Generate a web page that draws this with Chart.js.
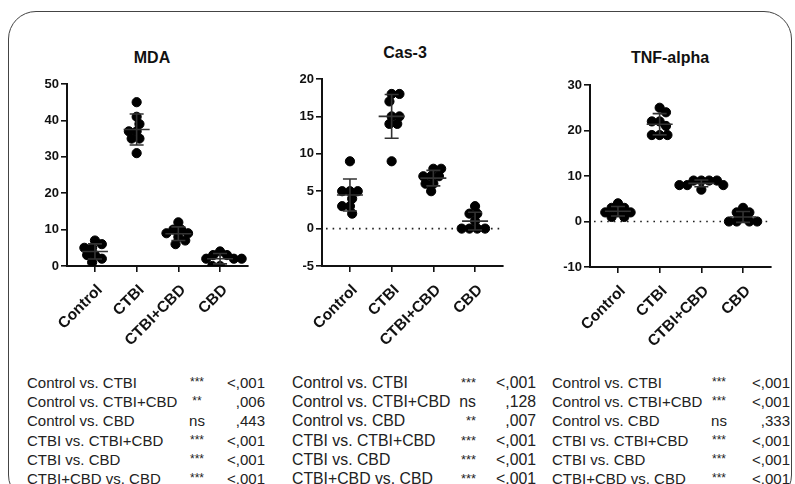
<!DOCTYPE html>
<html>
<head>
<meta charset="utf-8">
<script src="https://cdn.jsdelivr.net/npm/chart.js@4.4.1/dist/chart.umd.min.js"></script>
<style>
  body { margin: 0; background: #fff; font-family: Arial, 'Liberation Sans', sans-serif; }
  #wrap { position: relative; width: 795px; height: 484px; overflow: hidden; background: #fff; }
  #frame { position: absolute; left: 8px; top: 11px; width: 782px; height: 490px;
           border: 1.3px solid #444; border-radius: 28px; }
  .title { position: absolute; font-weight: bold; font-size: 16px; color: #111; transform: translateX(-50%); white-space: nowrap; }
  canvas { position: absolute; }
  .row { position: absolute; font-size: 15px; color: #222; white-space: nowrap; }
  .sig, .pv { position: absolute; top: 0; }
</style>
</head>
<body>
<div id="wrap">
  <div id="frame"></div>
  <div class="title" style="left:152px; top:49px">MDA</div>
  <div class="title" style="left:405px; top:44px">Cas-3</div>
  <div class="title" style="left:670px; top:49px">TNF-alpha</div>
  <canvas id="c1" width="240" height="290" style="left:20px; top:70px"></canvas>
  <canvas id="c2" width="240" height="295" style="left:275px; top:65px"></canvas>
  <canvas id="c3" width="240" height="290" style="left:543px; top:71px"></canvas>
  <div id="tables"></div>
</div>
<script>
const groups = ['Control', 'CTBI', 'CTBI+CBD', 'CBD'];

// MDA
const mdaControl = [7, 6, 5, 5, 3, 3, 2, 1];
const mdaCtbi = [45, 41, 39, 37, 37, 35, 35, 31];
const mdaCtbiCbd = [12, 10, 10, 9, 9, 8, 7, 6];
const mdaCbd = [4, 3, 3, 2, 2, 2, 0, 0];
const mdaTicks = [0, 10, 20, 30, 40, 50];

// Cas-3
const casControl = [9, 5, 5, 5, 4, 3, 3, 2];
const casCtbi = [18, 18, 17, 15, 15, 14, 14, 9];
const casCtbiCbd = [8, 8, 7, 7, 7, 6, 6, 5];
const casCbd = [3, 2, 2, 1, 0, 0, 0, 0];
const casTicks = [-5, 0, 5, 10, 15, 20];

// TNF-alpha
const tnfControl = [4, 3, 3, 2, 2, 2, 1, 1];
const tnfCtbi = [25, 24, 22, 22, 21, 19, 19, 19];
const tnfCtbiCbd = [9, 9, 9, 9, 8, 8, 8, 7];
const tnfCbd = [3, 2, 2, 1, 0, 0, 0, 0];
const tnfTicks = [-10, 0, 10, 20, 30];

// comparison tables
const comparisons = ['Control vs. CTBI', 'Control vs. CTBI+CBD', 'Control vs. CBD',
  'CTBI vs. CTBI+CBD', 'CTBI vs. CBD', 'CTBI+CBD vs. CBD'];
const mdaSig = ['***', '**', 'ns', '***', '***', '***'];
const mdaP = ['<,001', ',006', ',443', '<,001', '<,001', '<,001'];
const casSig = ['***', 'ns', '**', '***', '***', '***'];
const casP = ['<,001', ',128', ',007', '<,001', '<,001', '<,001'];
const tnfSig = ['***', '***', 'ns', '***', '***', '***'];
const tnfP = ['<,001', '<,001', ',333', '<,001', '<,001', '<,001'];

const FONT = "Arial, 'Liberation Sans', sans-serif";
const Y_W = 47, PAD_T = 14, PAD_R = 12, X_H = 94;
const X_MIN = -0.67, X_MAX = 3.67;

function mean(a) { return a.reduce((s, v) => s + v, 0) / a.length; }
function sd(a) { const m = mean(a); return Math.sqrt(a.reduce((s, v) => s + (v - m) ** 2, 0) / (a.length - 1)); }

// simple beeswarm so that overlapping dots spread sideways
function swarm(vals, pxX, pxY, d) {
  const placed = [];
  const off = new Array(vals.length);
  const order = vals.map((v, i) => i).sort((a, b) => vals[b] - vals[a]);
  let flip = 1;
  order.forEach(i => {
    const y = vals[i] * pxY;
    const cands = [0];
    placed.forEach(p => {
      const dy = Math.abs(p.y - y);
      if (dy < d) {
        const dx = Math.sqrt(d * d - dy * dy);
        cands.push(p.x + dx, p.x - dx);
      }
    });
    cands.sort((a, b) => Math.abs(a) - Math.abs(b) || (b - a) * flip);
    const x = cands.find(c => placed.every(p => Math.hypot(p.x - c, p.y - y) >= d - 0.01));
    if (x !== 0) flip = -flip;
    placed.push({ x, y });
    off[i] = x / pxX;
  });
  return off;
}

const errorBars = {
  id: 'errorBars',
  afterDatasetsDraw(chart) {
    const { ctx, scales: { x, y } } = chart;
    const sets = chart.options.plugins.errorBars.groups;
    ctx.save();
    ctx.strokeStyle = '#333';
    ctx.lineWidth = 1.6;
    sets.forEach((vals, i) => {
      const m = mean(vals), s = sd(vals);
      const cx = x.getPixelForValue(i);
      const ym = y.getPixelForValue(m), yt = y.getPixelForValue(m + s), yb = y.getPixelForValue(m - s);
      ctx.beginPath();
      ctx.moveTo(cx - 13, ym); ctx.lineTo(cx + 13, ym);
      ctx.moveTo(cx, yt); ctx.lineTo(cx, yb);
      ctx.moveTo(cx - 7, yt); ctx.lineTo(cx + 7, yt);
      ctx.moveTo(cx - 7, yb); ctx.lineTo(cx + 7, yb);
      ctx.stroke();
    });
    ctx.restore();
  }
};

const zeroLine = {
  id: 'zeroLine',
  beforeDatasetsDraw(chart) {
    if (!chart.options.plugins.zeroLine.show) return;
    const { ctx, chartArea, scales: { y } } = chart;
    const py = y.getPixelForValue(0);
    ctx.save();
    ctx.strokeStyle = '#222';
    ctx.lineWidth = 1.6;
    ctx.setLineDash([1.6, 5]);
    ctx.beginPath();
    ctx.moveTo(chartArea.left + 4, py);
    ctx.lineTo(chartArea.right, py);
    ctx.stroke();
    ctx.restore();
  }
};

function makeChart(id, sets, ticks, zero) {
  const canvas = document.getElementById(id);
  const plotW = canvas.width - Y_W - PAD_R;
  const plotH = canvas.height - PAD_T - X_H;
  const yMin = ticks[0], yMax = ticks[ticks.length - 1];
  const pxX = plotW / (X_MAX - X_MIN);
  const pxY = plotH / (yMax - yMin);
  const points = [];
  sets.forEach((vals, gi) => {
    const off = swarm(vals, pxX, pxY, 7.8);
    vals.forEach((v, k) => points.push({ x: gi + off[k], y: v }));
  });
  return new Chart(canvas, {
    type: 'scatter',
    data: {
      datasets: [{
        data: points,
        backgroundColor: '#000',
        borderColor: '#000',
        pointRadius: 4.6,
        pointHoverRadius: 4.6
      }]
    },
    options: {
      responsive: false,
      animation: false,
      layout: { padding: { top: PAD_T, right: PAD_R, left: 0, bottom: 0 } },
      plugins: {
        legend: { display: false },
        tooltip: { enabled: false },
        errorBars: { groups: sets },
        zeroLine: { show: zero }
      },
      scales: {
        x: {
          type: 'linear',
          min: X_MIN,
          max: X_MAX,
          afterBuildTicks: s => { s.ticks = groups.map((g, i) => ({ value: i })); },
          afterFit: s => { s.height = X_H; },
          border: { display: true, color: '#111', width: 2 },
          grid: { drawOnChartArea: false, drawTicks: true, tickLength: 6, color: '#111', lineWidth: 1.6 },
          ticks: {
            autoSkip: false,
            minRotation: 45,
            maxRotation: 45,
            padding: 9,
            labelOffset: 5,
            color: '#111',
            font: { family: FONT, size: 15.5, weight: 'bold' },
            callback: v => groups[v]
          }
        },
        y: {
          min: yMin,
          max: yMax,
          afterBuildTicks: s => { s.ticks = ticks.map(v => ({ value: v })); },
          afterFit: s => { s.width = Y_W; },
          border: { display: true, color: '#111', width: 2 },
          grid: { drawOnChartArea: false, drawTicks: true, tickLength: 6, color: '#111', lineWidth: 1.6 },
          ticks: {
            padding: 2,
            color: '#111',
            font: { family: FONT, size: 13, weight: 'bold' }
          }
        }
      }
    },
    plugins: [errorBars, zeroLine]
  });
}

makeChart('c1', [mdaControl, mdaCtbi, mdaCtbiCbd, mdaCbd], mdaTicks, false);
makeChart('c2', [casControl, casCtbi, casCtbiCbd, casCbd], casTicks, true);
makeChart('c3', [tnfControl, tnfCtbi, tnfCtbiCbd, tnfCbd], tnfTicks, true);

// comparison tables under the charts
const tables = [
  { sig: mdaSig, p: mdaP, left: 27, sigX: 197, sigAlign: 'center', pRight: 265, size: 15 },
  { sig: casSig, p: casP, left: 292, sigX: 476, sigAlign: 'right', pRight: 536, size: 15.8 },
  { sig: tnfSig, p: tnfP, left: 552, sigX: 719, sigAlign: 'center', pRight: 790, size: 15 }
];
const rowTop = [374, 393, 412, 431.5, 450.5, 469.5];
const host = document.getElementById('tables');
tables.forEach(t => {
  comparisons.forEach((c, i) => {
    const row = document.createElement('div');
    row.className = 'row';
    row.style.left = t.left + 'px';
    row.style.top = rowTop[i] + 'px';
    row.style.fontSize = t.size + 'px';
    row.textContent = c;
    const s = document.createElement('span');
    s.className = 'sig';
    s.textContent = t.sig[i];
    s.style.fontSize = (t.sig[i] === 'ns' ? t.size : t.size - 3) + 'px';
    if (t.sig[i] !== 'ns') s.style.top = '1px';
    s.style.left = (t.sigX - t.left) + 'px';
    s.style.transform = t.sigAlign === 'center' ? 'translateX(-50%)' : 'translateX(-100%)';
    row.appendChild(s);
    const p = document.createElement('span');
    p.className = 'pv';
    p.textContent = t.p[i];
    p.style.left = (t.pRight - t.left) + 'px';
    p.style.transform = 'translateX(-100%)';
    row.appendChild(p);
    host.appendChild(row);
  });
});
</script>
</body>
</html>
